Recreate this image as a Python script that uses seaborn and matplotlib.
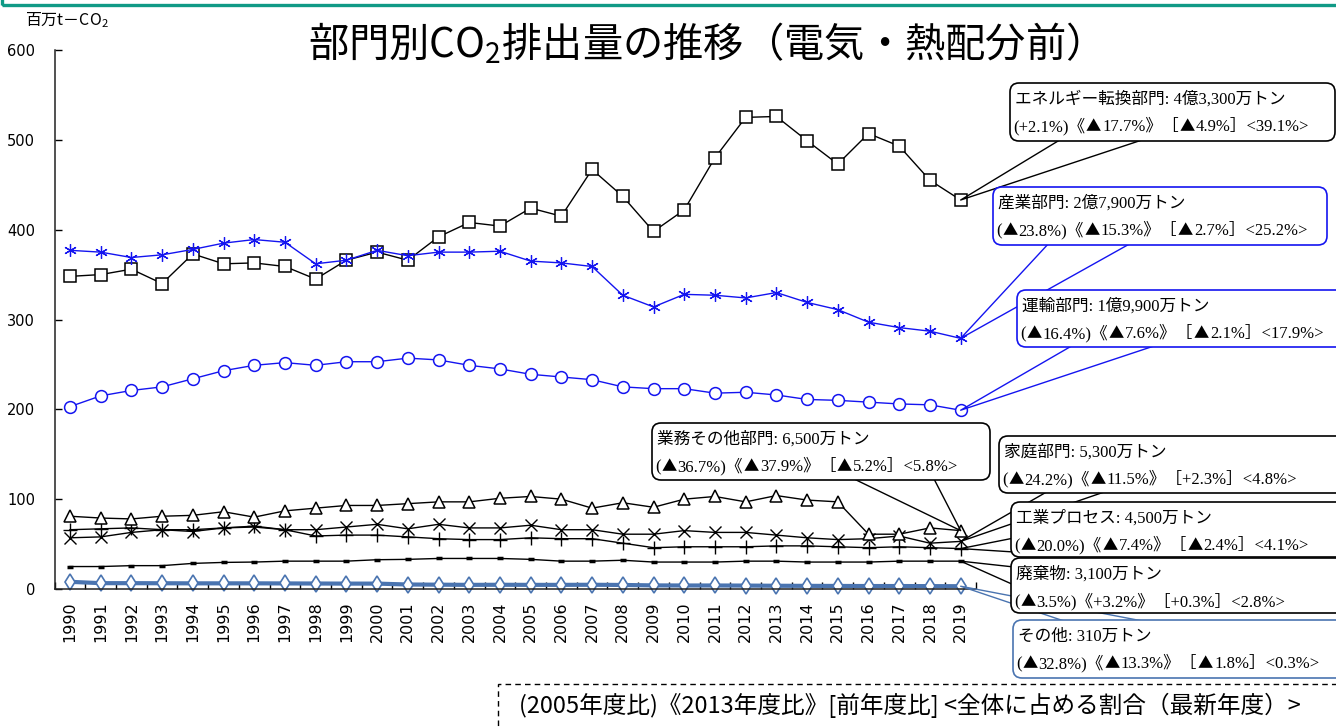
import re
import numpy as np
import pandas as pd
import matplotlib
matplotlib.use("Agg")
import matplotlib.pyplot as plt
import seaborn as sns
from matplotlib.patches import FancyBboxPatch, Rectangle
from matplotlib.lines import Line2D
from matplotlib.transforms import Affine2D

# ---------------- data ----------------
years = list(range(1990, 2020))
energy = [348, 350, 356, 340, 373, 362, 363, 359, 345, 366, 375, 366, 392, 408, 404,
          424, 415, 467, 437, 398, 422, 480, 525, 526, 499, 473, 507, 493, 455, 433]
industry = [377, 375, 369, 372, 378, 385, 389, 386, 362, 366, 377, 371, 375, 375, 376,
            365, 363, 359, 327, 314, 328, 327, 324, 330, 319, 311, 297, 291, 287, 279]
transport = [203, 215, 221, 225, 234, 243, 249, 252, 249, 253, 253, 257, 255, 249, 245,
             239, 236, 233, 225, 223, 223, 218, 219, 216, 211, 210, 208, 206, 205, 199]
commercial = [81, 79, 78, 81, 82, 86, 80, 87, 90, 93, 93, 95, 97, 97, 101,
              103, 100, 90, 96, 91, 100, 103, 97, 104, 99, 97, 61, 61, 68, 65]
household = [57, 58, 63, 66, 64, 68, 69, 66, 66, 69, 72, 67, 72, 68, 68,
             71, 66, 66, 61, 61, 65, 63, 63, 60, 57, 55, 56, 59, 51, 53]
process = [66, 67, 68, 66, 66, 68, 70, 66, 59, 60, 60, 58, 56, 55, 55,
           57, 56, 56, 51, 46, 47, 47, 47, 48, 48, 47, 46, 47, 46, 45]
waste = [25, 25, 26, 26, 28.5, 29.6, 30, 31, 31, 31, 32.6, 33, 34, 34, 34,
         33, 31, 31, 32, 30, 30, 30, 31, 31, 30, 30, 30, 31, 31, 31]
other = [8.0, 6.5, 6.5, 6.4, 6.3, 6.3, 6.3, 6.2, 6.1, 6.0, 6.0, 5.0, 4.8, 4.6, 4.7,
         4.6, 4.6, 4.7, 4.5, 4.0, 3.9, 3.9, 3.8, 3.6, 3.5, 3.4, 3.3, 3.3, 3.2, 3.1]

yticks = [0, 100, 200, 300, 400, 500, 600]

title = r"部門別CO$_\mathregular{2}$排出量の推移（電気・熱配分前）"
unit_label = r"百万t－CO$_\mathregular{2}$"
note = "(2005年度比)《2013年度比》[前年度比] <全体に占める割合（最新年度）>"

labels = {
    "energy": ("エネルギー転換部門: 4億3,300万トン", "(+2.1%)《▲17.7%》［▲4.9%］<39.1%>"),
    "industry": ("産業部門: 2億7,900万トン", "(▲23.8%)《▲15.3%》［▲2.7%］<25.2%>"),
    "transport": ("運輸部門: 1億9,900万トン", "(▲16.4%)《▲7.6%》［▲2.1%］<17.9%>"),
    "commercial": ("業務その他部門: 6,500万トン", "(▲36.7%)《▲37.9%》［▲5.2%］<5.8%>"),
    "household": ("家庭部門: 5,300万トン", "(▲24.2%)《▲11.5%》［+2.3%］<4.8%>"),
    "process": ("工業プロセス: 4,500万トン", "(▲20.0%)《▲7.4%》［▲2.4%］<4.1%>"),
    "waste": ("廃棄物: 3,100万トン", "(▲3.5%)《+3.2%》［+0.3%］<2.8%>"),
    "other": ("その他: 310万トン", "(▲32.8%)《▲13.3%》［▲1.8%］<0.3%>"),
}

# ---------------- figure ----------------
W, H = 1336, 727
fig = plt.figure(figsize=(W / 100, H / 100), dpi=100)
fig.patch.set_facecolor("white")

ax_left, ax_right, ax_top, ax_bottom = 54.6, 976.0, 50.0, 589.0
ax = fig.add_axes([ax_left / W, 1 - ax_bottom / H,
                   (ax_right - ax_left) / W, (ax_bottom - ax_top) / H])

BLUE = "#1414F0"
STEEL = "#4A74B0"

series = [
    (other, STEEL, "d", 8, "white", 3.0, 1.2),
    (waste, "black", "_", 5, "black", 1.0, 2.5),
    (process, "black", "+", 10, "black", 1.0, 1.0),
    (household, "black", "x", 9, "black", 1.0, 1.0),
    (commercial, "black", "^", 9, "white", 1.0, 1.1),
    (transport, BLUE, "o", 8.5, "white", 1.0, 1.1),
    (energy, "black", "s", 8, "white", 1.0, 1.1),
    (industry, BLUE, (6, 2, 0), 9, BLUE, 1.0, 0.9),
]
for vals, col, mk, ms, mfc, lw, mew in series:
    sns.lineplot(x=years, y=vals, ax=ax, color=col, marker=mk, markersize=ms,
                 markerfacecolor=mfc, markeredgecolor=col, markeredgewidth=mew,
                 linewidth=lw, legend=False, clip_on=False)

ax.set_xlim(years[0] - 0.5, years[-1] + 0.5)
ax.set_ylim(yticks[0], yticks[-1])
ax.set_yticks(yticks)
ax.set_xticks(years)
ax.set_xticks(np.arange(years[0] - 0.5, years[-1] + 1, 1), minor=True)
ax.set_xticklabels([str(y) for y in years], rotation=90, fontsize=11.5,
                   fontfamily="DejaVu Sans")
ax.tick_params(axis="x", which="major", length=0, pad=9)
ax.tick_params(axis="x", which="minor", direction="in", length=5, width=1.0)
ax.tick_params(axis="y", direction="in", length=5, width=1.0, pad=14, labelsize=10.5)
for lab in ax.get_yticklabels():
    lab.set_fontfamily("DejaVu Sans")
ax.set_xlabel("")
ax.set_ylabel("")
for s in ["top", "right"]:
    ax.spines[s].set_visible(False)
for s in ["left", "bottom"]:
    ax.spines[s].set_linewidth(1.1)
    ax.spines[s].set_color("#222222")
ax.set_facecolor("white")

# pixel coordinate transform (y up)
pix = Affine2D().scale(1 / W, 1 / H) + fig.transFigure
renderer = fig.canvas.get_renderer()


def P(x, y):
    return x, H - y


# top teal frame
fig.add_artist(Rectangle(P(2, 4.5), W + 20, 40, transform=pix, fill=False,
                         edgecolor="#109A86", linewidth=2.4, zorder=50))

# titles
cjk_sans = ["Noto Sans CJK JP", "DejaVu Sans"]
fig.text(*P(694, 44), title, transform=pix, ha="center", va="center",
         fontsize=29, fontfamily=cjk_sans)
fig.text(*P(25, 20), unit_label, transform=pix, ha="left", va="center",
         fontsize=11.5, fontfamily=cjk_sans)

# bottom note with dashed box
fig.add_artist(Rectangle(P(498, 745), 900, 61, transform=pix, fill=False,
                         edgecolor="black", linewidth=1.0, linestyle=(0, (4, 3)),
                         zorder=5))
fig.text(*P(519, 705), note, transform=pix, ha="left", va="center",
         fontsize=17, fontfamily=cjk_sans)

serif_mix = ["Liberation Serif", "Noto Sans CJK JP"]
tri_font = ["Noto Sans CJK JP", "DejaVu Sans"]


def rich_line(x, y_base, s, z, size=12):
    """Draw a line of text; ▲ drawn in the CJK font, the rest in the serif mix."""
    parts = [p for p in re.split(r"(▲)", s) if p]
    cx = x
    for p in parts:
        fam = tri_font if p == "▲" else serif_mix
        sz = size * 0.92 if p == "▲" else size
        t = fig.text(cx, H - y_base, p, transform=pix, ha="left", va="baseline",
                     fontsize=sz, fontfamily=fam, zorder=z)
        bb = t.get_window_extent(renderer)
        cx += bb.width + (1.0 if p == "▲" else 0.5)


def callout(key, vals, box, bases, edge, z):
    x0, y0, x1, y1 = box
    tip_disp = ax.transData.transform((years[-1], vals[-1]))
    tx, ty = pix.inverted().transform(tip_disp)
    (bx1, by1), (bx2, by2) = bases
    fig.add_artist(Line2D([bx1, tx, bx2], [H - by1, ty, H - by2], transform=pix,
                          color=edge, linewidth=1.0, zorder=z))
    fig.add_artist(FancyBboxPatch((x0, H - y1), x1 - x0, y1 - y0,
                                  boxstyle="round,pad=0,rounding_size=9",
                                  transform=pix, facecolor="white", edgecolor=edge,
                                  linewidth=1.2, zorder=z + 0.5))
    l1, l2 = labels[key]
    rich_line(x0 + 5, y0 + 21, l1, z + 0.8)
    rich_line(x0 + 3, y0 + 48, l2, z + 0.8)


callout("energy", energy, (1010, 83, 1335, 141), [(1063, 138), (1148, 138)], "black", 10)
callout("industry", industry, (993, 187, 1327, 245), [(1050, 242), (1133, 242)], BLUE, 12)
callout("transport", transport, (1017, 290, 1350, 347), [(1075, 344), (1160, 344)], BLUE, 14)
callout("commercial", commercial, (652, 423, 990, 480), [(850, 477), (933, 477)], "black", 16)
callout("household", household, (999, 436, 1350, 493), [(1050, 490), (1110, 490)], "black", 18)
callout("other", other, (1013, 620, 1350, 678), [(1070, 623), (1153, 623)], STEEL, 20)
callout("process", process, (1011, 502, 1350, 557), [(1014, 538), (1014, 552)], "black", 22)
callout("waste", waste, (1011, 558, 1350, 613), [(1014, 567), (1014, 585)], "black", 24)

fig.savefig("out.png", dpi=100, facecolor="white")
